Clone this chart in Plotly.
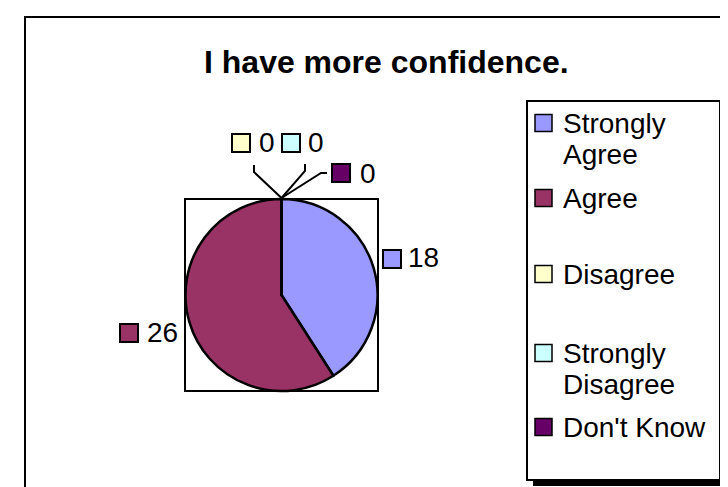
import plotly.graph_objects as go

# ---- data ----
categories = ["Strongly Agree", "Agree", "Disagree", "Strongly Disagree", "Don't Know"]
values = [18, 26, 0, 0, 0]
colors = ["#9999FF", "#993366", "#FFFFCC", "#CCFFFF", "#660066"]
title_text = "I have more confidence."

# ---- layout constants (pixels, origin top-left) ----
W, H = 728, 487
FONT = "Liberation Sans, Arial, sans-serif"


def px(x):
    return x / W


def py(y):
    return 1 - y / H


shapes = []
annotations = []

# outer chart border (extends beyond the canvas right/bottom)
shapes.append(dict(type="rect", xref="paper", yref="paper",
                   x0=px(17), x1=px(760), y0=py(9), y1=py(520),
                   line=dict(color="black", width=2), fillcolor="rgba(0,0,0,0)", layer="below"))

# plot area square behind pie
pie_left, pie_right, pie_top, pie_bottom = 177, 370, 191, 383
shapes.append(dict(type="rect", xref="paper", yref="paper",
                   x0=px(pie_left), x1=px(pie_right), y0=py(pie_bottom), y1=py(pie_top),
                   line=dict(color="black", width=2), fillcolor="white", layer="below"))

fig = go.Figure(go.Pie(
    labels=categories,
    values=values,
    sort=False,
    direction="clockwise",
    rotation=0,
    marker=dict(colors=colors, line=dict(color="black", width=2.5)),
    textinfo="none",
    showlegend=False,
    domain=dict(x=[px(pie_left), px(pie_right)], y=[py(pie_bottom), py(pie_top)]),
))

# title
annotations.append(dict(text="<b>" + title_text + "</b>", xref="paper", yref="paper",
                        x=px(378), y=py(54), xanchor="center", yanchor="middle",
                        showarrow=False, font=dict(family=FONT, size=32, color="black")))

FS = 28
SQ = 18

# data labels: (square left, square top, text left, text center y)
label_pos = [
    (375, 242, 398, 250),   # Strongly Agree
    (112, 316, 137, 324),   # Agree
    (224, 126, 249, 135),   # Disagree
    (274, 126, 298, 135),   # Strongly Disagree
    (324, 156, 350, 165),   # Don't Know
]
for (sx, sy, tx, ty), v, c in zip(label_pos, values, colors):
    shapes.append(dict(type="rect", xref="paper", yref="paper",
                       x0=px(sx), x1=px(sx + SQ), y0=py(sy + SQ), y1=py(sy),
                       line=dict(color="black", width=2), fillcolor=c))
    annotations.append(dict(text=str(v), xref="paper", yref="paper",
                            x=px(tx), y=py(ty), xanchor="left", yanchor="middle",
                            showarrow=False, font=dict(family=FONT, size=FS, color="black")))

# leader lines for the zero-value slices (to the pie apex)
apex = (273.5, 190)
leaders = [
    [(246, 157), (246, 164), apex],
    [(297, 156), (297, 163), apex],
    [(319, 165), (313, 165), apex],
]
for pts in leaders:
    path = "M " + " L ".join(f"{px(x)},{py(y)}" for x, y in pts)
    shapes.append(dict(type="path", xref="paper", yref="paper", path=path,
                       line=dict(color="black", width=2)))

# legend box with shadow
lg_l, lg_t, lg_r, lg_b, sh = 519, 93, 712, 472, 6
shapes.append(dict(type="rect", xref="paper", yref="paper",
                   x0=px(lg_l + sh), x1=px(lg_r + sh), y0=py(lg_b + sh), y1=py(lg_t + sh),
                   line=dict(width=0), fillcolor="black"))
shapes.append(dict(type="rect", xref="paper", yref="paper",
                   x0=px(lg_l), x1=px(lg_r), y0=py(lg_b), y1=py(lg_t),
                   line=dict(color="black", width=2), fillcolor="white"))

# legend entries: baseline of first line
entry_baselines = [125, 200, 276, 355, 429]
line_gap = 31
sw_x, txt_x = 527, 553
for cat, c, base in zip(categories, colors, entry_baselines):
    lines = cat.split(" ", 1) if cat.startswith("Strongly") else [cat]
    mid = base - 10
    shapes.append(dict(type="rect", xref="paper", yref="paper",
                       x0=px(sw_x), x1=px(sw_x + 17), y0=py(mid + 8.5), y1=py(mid - 8.5),
                       line=dict(color="black", width=1.5), fillcolor=c))
    for i, ln in enumerate(lines):
        annotations.append(dict(text=ln, xref="paper", yref="paper",
                                x=px(txt_x), y=py(mid + i * line_gap), xanchor="left", yanchor="middle",
                                showarrow=False, font=dict(family=FONT, size=FS, color="black")))

fig.update_layout(
    width=W, height=H,
    margin=dict(l=0, r=0, t=0, b=0),
    paper_bgcolor="white",
    plot_bgcolor="white",
    shapes=shapes,
    annotations=annotations,
    showlegend=False,
)

fig.write_html("out.html")
